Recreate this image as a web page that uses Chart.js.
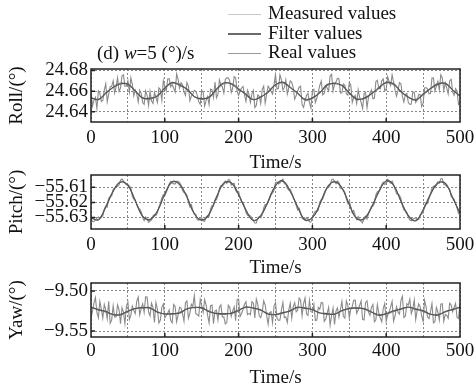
<!DOCTYPE html>
<html>
<head>
<meta charset="utf-8">
<script src="https://cdn.jsdelivr.net/npm/chart.js@4.4.0/dist/chart.umd.min.js"></script>
<style>
body{margin:0;background:#fff;}
#page{position:relative;width:476px;height:390px;overflow:hidden;background:#fff;
  font-family:'Liberation Serif','Times New Roman',serif;color:#111;}
#page canvas{position:absolute;left:0;}
#title{position:absolute;left:97px;top:43px;font-size:19px;line-height:20px;white-space:nowrap;}
#legend{position:absolute;left:228px;top:3px;font-size:19px;}
#legend div{height:19.5px;line-height:19.5px;white-space:nowrap;}
#legend span{display:inline-block;width:33px;vertical-align:middle;margin-right:7px;}
</style>
</head>
<body>
<div id="page">
  <canvas id="c1" width="476" height="175" style="top:0px"></canvas>
  <canvas id="c2" width="476" height="120" style="top:165px"></canvas>
  <canvas id="c3" width="476" height="115" style="top:275px"></canvas>
  <div id="title">(d) <i>w</i>=5 (°)/s</div>
  <div id="legend">
    <div><span style="border-top:1px solid #c8c8c8"></span>Measured values</div>
    <div><span style="border-top:2px solid #6a6a6a"></span>Filter values</div>
    <div><span style="border-top:1.5px solid #9a9a9a"></span>Real values</div>
  </div>
</div>
<script>
// time stamps (s)
var measuredTime = [0,2,4,6,8,10,12,14,16,18,20,22,24,26,28,30,32,34,36,38,40,42,44,46,48,
50,52,54,56,58,60,62,64,66,68,70,72,74,76,78,80,82,84,86,88,90,92,94,96,98,
100,102,104,106,108,110,112,114,116,118,120,122,124,126,128,130,132,134,136,138,140,142,144,146,148,
150,152,154,156,158,160,162,164,166,168,170,172,174,176,178,180,182,184,186,188,190,192,194,196,198,
200,202,204,206,208,210,212,214,216,218,220,222,224,226,228,230,232,234,236,238,240,242,244,246,248,
250,252,254,256,258,260,262,264,266,268,270,272,274,276,278,280,282,284,286,288,290,292,294,296,298,
300,302,304,306,308,310,312,314,316,318,320,322,324,326,328,330,332,334,336,338,340,342,344,346,348,
350,352,354,356,358,360,362,364,366,368,370,372,374,376,378,380,382,384,386,388,390,392,394,396,398,
400,402,404,406,408,410,412,414,416,418,420,422,424,426,428,430,432,434,436,438,440,442,444,446,448,
450,452,454,456,458,460,462,464,466,468,470,472,474,476,478,480,482,484,486,488,490,492,494,496,498,500];
var filterTime = [0,10,20,30,40,50,60,70,80,90,100,110,120,130,140,150,160,170,180,190,200,210,220,230,240,250,260,270,280,290,300,310,320,330,340,350,360,370,380,390,400,410,420,430,440,450,460,470,480,490,500];

// Roll
var rollMeasured = [24.6600,24.6456,24.6511,24.6540,24.6433,24.6603,24.6580,24.6500,24.6510,24.6609,24.6671,24.6498,24.6571,24.6643,24.6647,24.6699,24.6582,24.6641,24.6728,24.6597,24.6630,24.6749,24.6757,24.6646,24.6649,24.6700,24.6592,24.6728,24.6666,24.6555,24.6610,24.6576,24.6495,24.6609,24.6578,24.6490,
24.6472,24.6603,24.6560,24.6461,24.6599,24.6505,24.6482,24.6588,24.6539,24.6491,24.6632,24.6615,24.6512,24.6702,24.6647,24.6601,24.6720,24.6720,24.6640,24.6665,24.6630,24.6592,24.6767,24.6714,24.6630,24.6681,24.6661,24.6591,24.6558,24.6683,24.6649,24.6508,24.6553,24.6570,24.6608,24.6598,
24.6560,24.6496,24.6472,24.6608,24.6590,24.6456,24.6511,24.6549,24.6471,24.6619,24.6612,24.6537,24.6688,24.6536,24.6568,24.6709,24.6661,24.6641,24.6581,24.6714,24.6728,24.6729,24.6699,24.6587,24.6630,24.6739,24.6729,24.6601,24.6558,24.6604,24.6629,24.6645,24.6563,24.6501,24.6608,24.6568,
24.6492,24.6574,24.6609,24.6442,24.6462,24.6564,24.6551,24.6480,24.6618,24.6648,24.6485,24.6566,24.6649,24.6624,24.6598,24.6571,24.6661,24.6759,24.6620,24.6626,24.6757,24.6709,24.6610,24.6636,24.6708,24.6573,24.6631,24.6699,24.6686,24.6634,24.6522,24.6557,24.6602,24.6638,24.6647,24.6470,
24.6443,24.6505,24.6560,24.6579,24.6492,24.6437,24.6600,24.6617,24.6490,24.6531,24.6593,24.6655,24.6698,24.6565,24.6578,24.6650,24.6631,24.6602,24.6747,24.6763,24.6601,24.6670,24.6689,24.6724,24.6718,24.6583,24.6582,24.6669,24.6656,24.6575,24.6561,24.6684,24.6661,24.6491,24.6539,24.6559,
24.6482,24.6613,24.6541,24.6491,24.6433,24.6574,24.6590,24.6441,24.6539,24.6580,24.6612,24.6527,24.6531,24.6692,24.6705,24.6630,24.6622,24.6700,24.6718,24.6606,24.6620,24.6739,24.6689,24.6655,24.6757,24.6690,24.6612,24.6552,24.6607,24.6683,24.6669,24.6547,24.6495,24.6570,24.6578,24.6490,
24.6472,24.6476,24.6590,24.6589,24.6492,24.6515,24.6570,24.6568,24.6451,24.6482,24.6632,24.6635,24.6620,24.6575,24.6578,24.6728,24.6729,24.6602,24.6649,24.6695,24.6610,24.6758,24.6728,24.6606,24.6679,24.6632,24.6573,24.6699,24.6715,24.6594,24.6561,24.6625,24.6602,24.6472,24.6490];
var rollFilter = [24.6537,24.6517,24.6583,24.6636,24.6669,24.6669,24.6602,24.6533,24.6533,24.6552,24.6631,24.6685,24.6657,24.662,24.6547,24.6528,24.6539,24.6618,24.6681,24.6669,24.6619,24.657,24.6517,24.6545,24.6588,24.6663,24.6687,24.6634,24.6583,24.6515,24.6535,24.6584,24.6663,24.6672,24.6657,24.6582,24.6521,24.6533,24.6575,24.6628,24.6685,24.6671,24.6594,24.6543,24.6513,24.6572,24.6625,24.6665,24.6677,24.661,24.6555];
var rollReal = [24.6531,24.6525,24.6573,24.664,24.6679,24.6661,24.66,24.6539,24.6521,24.656,24.6627,24.6675,24.6669,24.6614,24.6549,24.652,24.6549,24.6614,24.6669,24.6675,24.6627,24.656,24.6521,24.6539,24.66,24.6661,24.6679,24.664,24.6573,24.6525,24.6531,24.6586,24.6651,24.668,24.6651,24.6586,24.6531,24.6525,24.6573,24.664,24.6679,24.6661,24.66,24.6539,24.6521,24.656,24.6627,24.6675,24.6669,24.6614,24.6549];
var rollTicks = [24.64, 24.66, 24.68];

// Pitch
var pitchMeasured = [-55.6297,-55.6326,-55.6328,-55.6316,-55.6304,-55.6296,-55.6307,-55.6298,-55.6290,-55.6245,-55.6226,-55.6231,-55.6172,-55.6161,-55.6158,-55.6113,-55.6104,-55.6094,-55.6095,-55.6084,-55.6052,-55.6046,-55.6058,-55.6074,-55.6085,-55.6082,-55.6090,-55.6107,-55.6160,-55.6179,-55.6184,-55.6215,-55.6236,-55.6245,-55.6262,-55.6300,
-55.6321,-55.6296,-55.6310,-55.6332,-55.6324,-55.6316,-55.6289,-55.6280,-55.6286,-55.6269,-55.6230,-55.6207,-55.6170,-55.6149,-55.6156,-55.6133,-55.6110,-55.6078,-55.6061,-55.6070,-55.6078,-55.6078,-55.6060,-55.6060,-55.6067,-55.6086,-55.6120,-55.6135,-55.6140,-55.6153,-55.6198,-55.6229,-55.6216,-55.6253,-55.6276,-55.6278,
-55.6315,-55.6318,-55.6304,-55.6302,-55.6324,-55.6326,-55.6295,-55.6288,-55.6294,-55.6243,-55.6222,-55.6223,-55.6186,-55.6183,-55.6156,-55.6111,-55.6090,-55.6094,-55.6081,-55.6060,-55.6076,-55.6050,-55.6052,-55.6086,-55.6075,-55.6074,-55.6122,-55.6133,-55.6128,-55.6169,-55.6198,-55.6201,-55.6228,-55.6267,-55.6286,-55.6284,
-55.6289,-55.6302,-55.6320,-55.6336,-55.6336,-55.6304,-55.6293,-55.6302,-55.6282,-55.6237,-55.6214,-55.6217,-55.6196,-55.6165,-55.6142,-55.6139,-55.6120,-55.6070,-55.6065,-55.6078,-55.6072,-55.6054,-55.6046,-55.6076,-55.6081,-55.6108,-55.6118,-55.6113,-55.6138,-55.6163,-55.6188,-55.6219,-55.6250,-55.6239,-55.6268,-55.6304,
-55.6311,-55.6316,-55.6300,-55.6308,-55.6330,-55.6330,-55.6299,-55.6274,-55.6260,-55.6261,-55.6252,-55.6199,-55.6180,-55.6177,-55.6152,-55.6123,-55.6104,-55.6102,-55.6087,-55.6050,-55.6046,-55.6062,-55.6076,-55.6058,-55.6069,-55.6106,-55.6110,-55.6119,-55.6134,-55.6175,-55.6206,-55.6193,-55.6228,-55.6269,-55.6254,-55.6286,
-55.6313,-55.6294,-55.6314,-55.6326,-55.6336,-55.6302,-55.6291,-55.6310,-55.6276,-55.6251,-55.6226,-55.6225,-55.6204,-55.6151,-55.6130,-55.6127,-55.6112,-55.6082,-55.6067,-55.6082,-55.6074,-55.6048,-55.6060,-55.6072,-55.6059,-55.6084,-55.6114,-55.6143,-55.6150,-55.6153,-55.6176,-55.6221,-55.6250,-55.6253,-55.6268,-55.6300,
-55.6315,-55.6322,-55.6310,-55.6306,-55.6302,-55.6314,-55.6313,-55.6284,-55.6276,-55.6271,-55.6222,-55.6203,-55.6208,-55.6175,-55.6142,-55.6107,-55.6092,-55.6102,-55.6083,-55.6064,-55.6072,-55.6044,-55.6044,-55.6082,-55.6085,-55.6096,-55.6104,-55.6113,-55.6160,-55.6171,-55.6180,-55.6205,-55.6238,-55.6273,-55.6262];
var pitchFilter = [-55.63,-55.6316,-55.6229,-55.6127,-55.6067,-55.6086,-55.6189,-55.6293,-55.6312,-55.6259,-55.6144,-55.6063,-55.6083,-55.6164,-55.6275,-55.6316,-55.6279,-55.6165,-55.6071,-55.6071,-55.615,-55.625,-55.632,-55.6287,-55.6196,-55.6089,-55.6058,-55.6128,-55.6229,-55.6317,-55.6301,-55.6214,-55.61,-55.6064,-55.6103,-55.6215,-55.6308,-55.6308,-55.6233,-55.6131,-55.6059,-55.6085,-55.6193,-55.6288,-55.6322,-55.6249,-55.6147,-55.6073,-55.6073,-55.6169,-55.6271];
var pitchReal = [-55.6303,-55.6312,-55.6234,-55.6125,-55.6062,-55.609,-55.619,-55.629,-55.6318,-55.6255,-55.6146,-55.6068,-55.6077,-55.6167,-55.6274,-55.632,-55.6274,-55.6167,-55.6077,-55.6068,-55.6146,-55.6255,-55.6318,-55.629,-55.619,-55.609,-55.6062,-55.6125,-55.6234,-55.6312,-55.6303,-55.6213,-55.6106,-55.606,-55.6106,-55.6213,-55.6303,-55.6312,-55.6234,-55.6125,-55.6062,-55.609,-55.619,-55.629,-55.6318,-55.6255,-55.6146,-55.6068,-55.6077,-55.6167,-55.6274];
var pitchTicks = [-55.63, -55.62, -55.61];

// Yaw
var yawMeasured = [-9.5341,-9.5253,-9.5151,-9.5081,-9.5266,-9.5333,-9.5130,-9.5227,-9.5340,-9.5168,-9.5235,-9.5348,-9.5129,-9.5404,-9.5364,-9.5187,-9.5324,-9.5325,-9.5174,-9.5232,-9.5409,-9.5209,-9.5264,-9.5408,-9.5190,-9.5138,-9.5355,-9.5302,-9.5190,-9.5243,-9.5281,-9.5126,-9.5076,-9.5298,-9.5221,-9.5160,
-9.5266,-9.5073,-9.5076,-9.5261,-9.5311,-9.5153,-9.5205,-9.5392,-9.5145,-9.5228,-9.5400,-9.5363,-9.5204,-9.5164,-9.5334,-9.5307,-9.5279,-9.5235,-9.5369,-9.5397,-9.5169,-9.5194,-9.5384,-9.5303,-9.5205,-9.5213,-9.5280,-9.5377,-9.5145,-9.5123,-9.5341,-9.5276,-9.5166,-9.5193,-9.5056,-9.5280,
-9.5296,-9.5313,-9.5106,-9.5186,-9.5266,-9.5108,-9.5175,-9.5302,-9.5400,-9.5183,-9.5175,-9.5408,-9.5249,-9.5239,-9.5364,-9.5202,-9.5174,-9.5325,-9.5324,-9.5412,-9.5394,-9.5179,-9.5204,-9.5318,-9.5250,-9.5198,-9.5370,-9.5107,-9.5100,-9.5318,-9.5281,-9.5231,-9.5166,-9.5133,-9.5296,-9.5280,
-9.5296,-9.5133,-9.5151,-9.5336,-9.5101,-9.5168,-9.5310,-9.5332,-9.5265,-9.5123,-9.5175,-9.5303,-9.5414,-9.5269,-9.5259,-9.5397,-9.5189,-9.5145,-9.5339,-9.5367,-9.5364,-9.5239,-9.5144,-9.5333,-9.5325,-9.5393,-9.5235,-9.5152,-9.5340,-9.5198,-9.5146,-9.5261,-9.5241,-9.5088,-9.5116,-9.5310,
-9.5161,-9.5088,-9.5286,-9.5306,-9.5116,-9.5258,-9.5265,-9.5167,-9.5370,-9.5363,-9.5205,-9.5228,-9.5144,-9.5149,-9.5379,-9.5352,-9.5279,-9.5205,-9.5429,-9.5307,-9.5214,-9.5419,-9.5249,-9.5213,-9.5325,-9.5228,-9.5130,-9.5317,-9.5340,-9.5123,-9.5176,-9.5336,-9.5226,-9.5193,-9.5116,-9.5115,
-9.5281,-9.5238,-9.5181,-9.5126,-9.5356,-9.5363,-9.5145,-9.5122,-9.5265,-9.5303,-9.5205,-9.5168,-9.5384,-9.5359,-9.5169,-9.5277,-9.5339,-9.5385,-9.5219,-9.5157,-9.5379,-9.5299,-9.5264,-9.5198,-9.5130,-9.5378,-9.5310,-9.5197,-9.5265,-9.5288,-9.5116,-9.5066,-9.5331,-9.5313,-9.5161,-9.5175,
-9.5101,-9.5283,-9.5226,-9.5111,-9.5356,-9.5243,-9.5160,-9.5197,-9.5310,-9.5378,-9.5115,-9.5198,-9.5324,-9.5344,-9.5259,-9.5157,-9.5399,-9.5385,-9.5204,-9.5262,-9.5364,-9.5164,-9.5159,-9.5378,-9.5295,-9.5303,-9.5340,-9.5152,-9.5175,-9.5258,-9.5206,-9.5156,-9.5331,-9.5343,-9.5161];
var yawFilter = [-9.52,-9.5236,-9.5255,-9.5296,-9.5299,-9.525,-9.5219,-9.5211,-9.5209,-9.5266,-9.5285,-9.5282,-9.5277,-9.5222,-9.5208,-9.5208,-9.526,-9.528,-9.5282,-9.5279,-9.5243,-9.5198,-9.5215,-9.5236,-9.5291,-9.5293,-9.5271,-9.5248,-9.5201,-9.5218,-9.5231,-9.5275,-9.5282,-9.5292,-9.5244,-9.522,-9.5216,-9.522,-9.5263,-9.5304,-9.5283,-9.5248,-9.5227,-9.5201,-9.5229,-9.5246,-9.5291,-9.5302,-9.5257,-9.5232,-9.52];
var yawReal = [-9.5206,-9.5228,-9.5265,-9.5292,-9.5289,-9.5258,-9.5221,-9.5205,-9.5221,-9.5258,-9.5289,-9.5292,-9.5265,-9.5228,-9.5206,-9.5216,-9.525,-9.5284,-9.5294,-9.5273,-9.5235,-9.5208,-9.5211,-9.5242,-9.5279,-9.5295,-9.5279,-9.5242,-9.5211,-9.5208,-9.5235,-9.5273,-9.5294,-9.5284,-9.525,-9.5216,-9.5206,-9.5228,-9.5265,-9.5292,-9.5289,-9.5258,-9.5221,-9.5205,-9.5221,-9.5258,-9.5289,-9.5292,-9.5265,-9.5228,-9.5206];
var yawTicks = [-9.55, -9.50];

var FONT = "'Liberation Serif','Times New Roman',serif";

function pts(times, vals){
  return times.map(function(t, i){ return {x: t, y: vals[i]}; });
}

// box round the plot and small inward ticks
var frame = {
  id: 'frame',
  afterDraw: function(chart){
    var ctx = chart.ctx, a = chart.chartArea, sx = chart.scales.x, sy = chart.scales.y;
    ctx.save();
    ctx.strokeStyle = '#222';
    ctx.lineWidth = 1.5;
    ctx.strokeRect(a.left, a.top, a.right - a.left, a.bottom - a.top);
    ctx.beginPath();
    sx.ticks.forEach(function(t){
      if (t.value % 100 === 0 && t.value > 0 && t.value < 500) {
        var px = sx.getPixelForValue(t.value);
        ctx.moveTo(px, a.bottom); ctx.lineTo(px, a.bottom - 4);
      }
    });
    sy.ticks.forEach(function(t){
      var py = sy.getPixelForValue(t.value);
      ctx.moveTo(a.left, py); ctx.lineTo(a.left + 4, py);
    });
    ctx.stroke();
    ctx.restore();
  }
};

function panel(id, p){
  return new Chart(document.getElementById(id), {
    type: 'line',
    data: {
      datasets: [
        {label: 'Filter values', data: pts(filterTime, p.filter), borderColor: '#555', borderWidth: 1.2, pointRadius: 0, tension: 0.4},
        {label: 'Real values', data: pts(filterTime, p.real), borderColor: '#777', borderWidth: 1, pointRadius: 0, tension: 0.4},
        {label: 'Measured values', data: pts(measuredTime, p.measured), borderColor: '#8a8a8a', borderWidth: 1.1, pointRadius: 0, tension: 0}
      ]
    },
    options: {
      responsive: false,
      animation: false,
      events: [],
      layout: {padding: {top: p.padTop, right: 16, left: 0, bottom: 0}},
      plugins: {legend: {display: false}, tooltip: {enabled: false}},
      scales: {
        x: {
          type: 'linear', min: 0, max: 500,
          border: {display: false, dash: [2, 2]},
          grid: {color: '#888', lineWidth: 1, drawTicks: false},
          ticks: {
            stepSize: 50, autoSkip: false, maxRotation: 0, padding: p.tickPad,
            color: '#111', font: {family: FONT, size: 19},
            callback: function(v){ return v % 100 === 0 ? String(v) : ''; }
          },
          title: {display: true, text: 'Time/s', color: '#111', font: {family: FONT, size: 19}, padding: {top: 0, bottom: p.titlePad}},
          afterFit: function(s){ s.height = p.axisH; s.paddingLeft = 0; s.paddingRight = 0; }
        },
        y: {
          min: p.min, max: p.max,
          border: {display: false, dash: [2, 2]},
          grid: {color: '#888', lineWidth: 1, drawTicks: false},
          afterBuildTicks: function(s){ s.ticks = p.ticks.map(function(v){ return {value: v}; }); },
          ticks: {
            padding: 3, color: '#111', font: {family: FONT, size: 19},
            callback: function(v){ return v.toFixed(2).replace('-', '\u2212'); }
          },
          title: {display: true, text: p.label, color: '#111', font: {family: FONT, size: 19}, padding: {top: 5.6, bottom: 0}},
          afterFit: function(s){ s.width = 91; s.paddingTop = 0; s.paddingBottom = 0; }
        }
      }
    },
    plugins: [frame]
  });
}

panel('c1', {measured: rollMeasured, filter: rollFilter, real: rollReal, ticks: rollTicks,
  min: 24.6302, max: 24.6814, label: 'Roll/(°)', padTop: 69, axisH: 53, tickPad: 4.6, titlePad: 1});
panel('c2', {measured: pitchMeasured, filter: pitchFilter, real: pitchReal, ticks: pitchTicks,
  min: -55.6376, max: -55.6019, label: 'Pitch/(°)', padTop: 10, axisH: 56, tickPad: 4.6, titlePad: 5.6});
panel('c3', {measured: yawMeasured, filter: yawFilter, real: yawReal, ticks: yawTicks,
  min: -9.5575, max: -9.49, label: 'Yaw/(°)', padTop: 8, axisH: 53, tickPad: 3, titlePad: 1});
</script>
</body>
</html>
